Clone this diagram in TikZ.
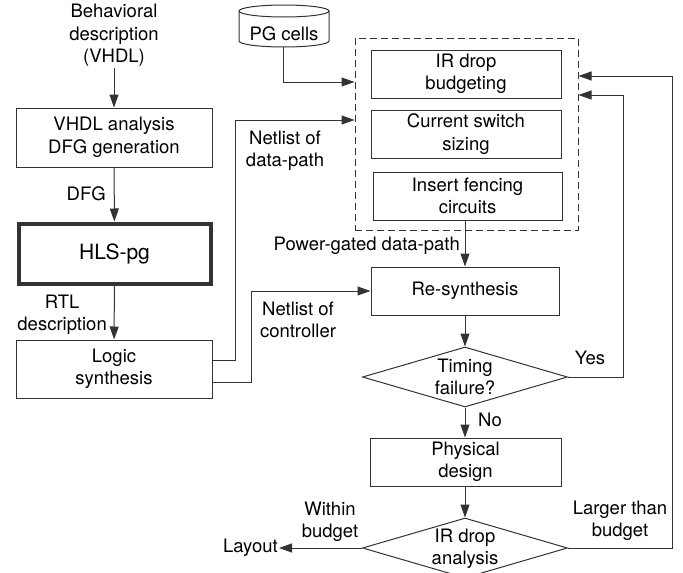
\documentclass[tikz,border=0pt]{standalone}
\usepackage{fontspec}
\setmainfont{TeX Gyre Heros}
\usetikzlibrary{arrows.meta,shapes.geometric}
\begin{document}
\begin{tikzpicture}[x=1pt,y=-1pt,
  every node/.style={font=\fontsize{18.5}{22.5}\selectfont, text=black, inner sep=1pt},
  box/.style={draw=black!80, line width=1pt, minimum width=190pt, minimum height=48pt, align=center, inner sep=0pt},
  dia/.style={diamond, draw=black!80, line width=1pt, minimum width=205pt, minimum height=60pt, inner sep=0pt},
  arr/.style={draw=black!80, line width=1pt, -{Triangle[length=13pt,width=9pt]}},
  ln/.style={draw=black!80, line width=1pt},
  lbl/.style={align=center}]
\useasboundingbox (0,0) rectangle (683,573);

% left column
\node[lbl] (beh) at (114,35.5) {Behavioral\\description\\(VHDL)};
\node[box, minimum width=196pt, minimum height=59pt] (vhdl) at (114,137.5) {VHDL analysis\\DFG generation};
\node[box, line width=4pt, minimum width=192pt, minimum height=60pt, font=\fontsize{21}{25}\selectfont] (hls) at (114.5,253.5) {HLS-pg};
\node[box, minimum width=196pt, minimum height=58pt] (logic) at (114,369) {Logic\\synthesis};
\node[anchor=east] (dfg) at (107,193.5) {DFG};
\node[lbl, anchor=east] (rtl) at (108,315) {RTL\\description};

% PG cells cylinder
\draw[ln] (284,11) ellipse [x radius=45pt, y radius=6pt];
\draw[ln] (239,11) -- (239,41) arc[start angle=180, end angle=360, x radius=45pt, y radius=6pt] -- (329,11);
\node (pg) at (284,34) {PG cells};
\coordinate (pgb) at (283,47);

% right column
\node[draw=black!80, line width=1pt, dash pattern=on 7pt off 4pt, minimum width=223pt, minimum height=192pt, inner sep=0pt] (dbox) at (466.5,134) {};
\node[box] (irb) at (466,74) {IR drop\\budgeting};
\node[box] (css) at (466,134) {Current switch\\sizing};
\node[box, minimum width=189pt] (ifc) at (467.5,196) {Insert fencing\\circuits};
\node[box, minimum width=188pt] (resyn) at (465,291) {Re-synthesis};
\node[dia] (tim) at (465,377) {};
\node[lbl] (timt) at (465,377) {Timing\\failure?};
\node[box, minimum width=191pt] (phys) at (465.5,462) {Physical\\design};
\node[dia] (irda) at (465,548) {};
\node[lbl] (irdat) at (465,549) {IR drop\\analysis};
\node[anchor=east] (layout) at (279,548) {Layout};

% labels
\node[anchor=east] (pgdp) at (461,246) {Power-gated data-path};
\node[lbl] (ndp) at (285,150.5) {Netlist of\\data-path};
\node[lbl] (nctl) at (298,320) {Netlist of\\controller};
\node (yes) at (590,358) {Yes};
\node[anchor=west] (no) at (477,420) {No};
\node[lbl] (larger) at (620,521) {Larger than\\budget};
\node[lbl] (within) at (330,522) {Within\\budget};

% connectors
\draw[arr] (beh) -- (vhdl);
\draw[arr] (vhdl) -- (hls);
\draw[arr] (hls) -- (logic);
\draw[arr] (pgb) |- (dbox.west |- 0,82);
\draw[arr] (logic.east |- 0,360) -| (235,120) -- (dbox.west |- 0,120);
\draw[arr] (logic.east |- 0,382) -| (251,291) -- (resyn.west);
\draw[arr] (resyn.north |- ifc.south) -- (resyn.north);
\draw[arr] (resyn.south) -- (tim.north);
\draw[arr] (tim.south) -- (tim.south |- phys.north);
\draw[arr] (irda.north |- phys.south) -- (irda.north);
\draw[arr] (tim.east) -| (623,95) -- (dbox.east |- 0,95);
\draw[arr] (irda.east) -| (672,76) -- (dbox.east |- 0,76);
\draw[arr] (irda.west) -- (layout.east);
\end{tikzpicture}
\end{document}
